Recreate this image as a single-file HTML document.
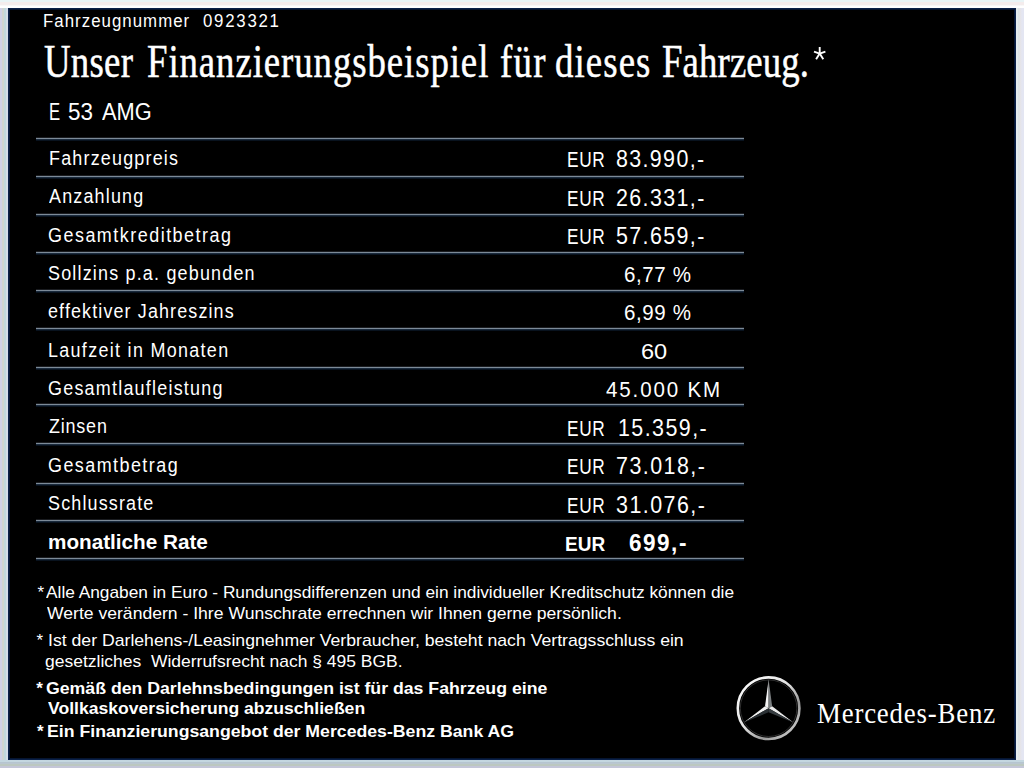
<!DOCTYPE html>
<html><head><meta charset="utf-8"><style>
html,body{margin:0;padding:0;}
body{width:1024px;height:768px;position:relative;overflow:hidden;
background:linear-gradient(90deg,#d0d0e6 0,#d0d0e6 2px,#d0d4d0 2px,#d0d4d0 4px,#c0d8dc 4px,#c0d8dc 6px,#d4dce8 6px,#d4dce8 8px,#dde3e8 8px,#e0e6ea 1016px,#eef2f2 1017px,#dce6e6 1018px,#e6e4e6 1020px,#e4e6f2 1022px);}
.top{position:absolute;left:0;top:0;width:1024px;height:8px;background:linear-gradient(180deg,#e8f4f6 0,#e8f4f6 2px,#f4ecec 2px,#f4ecec 5px,#f0f0f0 5px,#ffffff 6px,#ffffff 8px);}
.bot{position:absolute;left:0;top:760px;width:1024px;height:8px;background:linear-gradient(180deg,#c4d6e0 0,#c4d8e0 2px,#b4c4d0 2px,#bcc8d0 4px,#bcc8c0 4px,#bcc8c0 6px,#c4c6d8 6px);}
.panel{position:absolute;left:8px;top:8px;width:1006px;height:750px;background:#000;border:1px solid #0a2048;box-shadow:inset 0 0 0 1px #061530;}
.t{position:absolute;color:#fff;white-space:pre;line-height:1;transform-origin:0 0;}
.rl{position:absolute;left:36px;width:708px;height:1px;background:#7c8a98;box-shadow:0 -1px 0 #1a1c20,0 1px 0 #1a2a3c,0 2px 0 #08121e;}
</style></head><body>
<div class="top"></div><div class="bot"></div>
<div class="panel"></div>
<div class="rl" style="top:138px"></div><div class="rl" style="top:176px"></div><div class="rl" style="top:214px"></div><div class="rl" style="top:252px"></div><div class="rl" style="top:290px"></div><div class="rl" style="top:328px"></div><div class="rl" style="top:367px"></div><div class="rl" style="top:404px"></div><div class="rl" style="top:443px"></div><div class="rl" style="top:483px"></div><div class="rl" style="top:520px"></div><div class="rl" style="top:558px"></div>
<div class="t" style="left:43.4px;top:11.5px;font-family:'Liberation Sans',sans-serif;font-size:18.3px;letter-spacing:1.124px;transform:scaleX(0.92);">Fahrzeugnummer</div><div class="t" style="left:202.5px;top:11.5px;font-family:'Liberation Sans',sans-serif;font-size:18.3px;letter-spacing:1.902px;transform:scaleX(0.92);">0923321</div><div class="t" style="left:44.4px;top:38.7px;font-family:'Liberation Serif',serif;font-size:46px;letter-spacing:0.344px;transform:scaleX(0.8);-webkit-text-stroke:0.5px #fff;">Unser</div><div class="t" style="left:147.3px;top:38.7px;font-family:'Liberation Serif',serif;font-size:46px;letter-spacing:1.15px;transform:scaleX(0.8);-webkit-text-stroke:0.5px #fff;">Finanzierungsbeispiel</div><div class="t" style="left:500.2px;top:38.7px;font-family:'Liberation Serif',serif;font-size:46px;letter-spacing:1.562px;transform:scaleX(0.8);-webkit-text-stroke:0.5px #fff;">für</div><div class="t" style="left:555px;top:38.7px;font-family:'Liberation Serif',serif;font-size:46px;letter-spacing:1.375px;transform:scaleX(0.8);-webkit-text-stroke:0.5px #fff;">dieses</div><div class="t" style="left:662.4px;top:38.7px;font-family:'Liberation Serif',serif;font-size:46px;letter-spacing:0.141px;transform:scaleX(0.8);-webkit-text-stroke:0.5px #fff;">Fahrzeug.</div><div class="t" style="left:49px;top:100.6px;font-family:'Liberation Sans',sans-serif;font-size:23.3px;transform:scaleX(0.7154);">E</div><div class="t" style="left:68.1px;top:100.6px;font-family:'Liberation Sans',sans-serif;font-size:23.3px;transform:scaleX(0.9625);">53</div><div class="t" style="left:101.5px;top:100.6px;font-family:'Liberation Sans',sans-serif;font-size:23.3px;transform:scaleX(0.9365);">AMG</div><div class="t" style="left:48.7px;top:148.7px;font-family:'Liberation Sans',sans-serif;font-size:19.5px;letter-spacing:1.299px;transform:scaleX(0.92);">Fahrzeugpreis</div><div class="t" style="left:48.9px;top:187.4px;font-family:'Liberation Sans',sans-serif;font-size:19.5px;letter-spacing:1.274px;transform:scaleX(0.92);">Anzahlung</div><div class="t" style="left:47.9px;top:225.5px;font-family:'Liberation Sans',sans-serif;font-size:19.5px;letter-spacing:1.625px;transform:scaleX(0.92);">Gesamtkreditbetrag</div><div class="t" style="left:47.9px;top:263.6px;font-family:'Liberation Sans',sans-serif;font-size:19.5px;letter-spacing:1.294px;transform:scaleX(0.92);">Sollzins p.a. gebunden</div><div class="t" style="left:47.9px;top:301.9px;font-family:'Liberation Sans',sans-serif;font-size:19.5px;letter-spacing:1.222px;transform:scaleX(0.92);">effektiver Jahreszins</div><div class="t" style="left:48.4px;top:340.6px;font-family:'Liberation Sans',sans-serif;font-size:19.5px;letter-spacing:1.421px;transform:scaleX(0.92);">Laufzeit in Monaten</div><div class="t" style="left:47.9px;top:378.9px;font-family:'Liberation Sans',sans-serif;font-size:19.5px;letter-spacing:1.336px;transform:scaleX(0.92);">Gesamtlaufleistung</div><div class="t" style="left:48.9px;top:417.4px;font-family:'Liberation Sans',sans-serif;font-size:19.5px;letter-spacing:0.878px;transform:scaleX(0.92);">Zinsen</div><div class="t" style="left:47.9px;top:455.6px;font-family:'Liberation Sans',sans-serif;font-size:19.5px;letter-spacing:1.577px;transform:scaleX(0.92);">Gesamtbetrag</div><div class="t" style="left:47.9px;top:494.3px;font-family:'Liberation Sans',sans-serif;font-size:19.5px;letter-spacing:1.261px;transform:scaleX(0.92);">Schlussrate</div><div class="t" style="left:48.1px;top:531.9px;font-family:'Liberation Sans',sans-serif;font-size:20.5px;font-weight:700;transform:scaleX(1.0096);">monatliche Rate</div><div class="t" style="left:566.6px;top:149.2px;font-family:'Liberation Sans',sans-serif;font-size:21.6px;letter-spacing:0.812px;transform:scaleX(0.8);">EUR</div><div class="t" style="left:616px;top:148.4px;font-family:'Liberation Sans',sans-serif;font-size:23.3px;letter-spacing:1.47px;transform:scaleX(0.92);">83.990,-</div><div class="t" style="left:566.6px;top:187.57px;font-family:'Liberation Sans',sans-serif;font-size:21.6px;letter-spacing:0.812px;transform:scaleX(0.8);">EUR</div><div class="t" style="left:616px;top:186.77px;font-family:'Liberation Sans',sans-serif;font-size:23.3px;letter-spacing:1.494px;transform:scaleX(0.92);">26.331,-</div><div class="t" style="left:566.6px;top:225.94px;font-family:'Liberation Sans',sans-serif;font-size:21.6px;letter-spacing:0.812px;transform:scaleX(0.8);">EUR</div><div class="t" style="left:616px;top:225.14px;font-family:'Liberation Sans',sans-serif;font-size:23.3px;letter-spacing:1.494px;transform:scaleX(0.92);">57.659,-</div><div class="t" style="left:566.6px;top:417.79px;font-family:'Liberation Sans',sans-serif;font-size:21.6px;letter-spacing:0.812px;transform:scaleX(0.8);">EUR</div><div class="t" style="left:617.75px;top:416.99px;font-family:'Liberation Sans',sans-serif;font-size:23.3px;letter-spacing:1.567px;transform:scaleX(0.92);">15.359,-</div><div class="t" style="left:566.6px;top:456.16px;font-family:'Liberation Sans',sans-serif;font-size:21.6px;letter-spacing:0.812px;transform:scaleX(0.8);">EUR</div><div class="t" style="left:615.7px;top:455.36px;font-family:'Liberation Sans',sans-serif;font-size:23.3px;letter-spacing:1.587px;transform:scaleX(0.92);">73.018,-</div><div class="t" style="left:566.6px;top:494.53px;font-family:'Liberation Sans',sans-serif;font-size:21.6px;letter-spacing:0.812px;transform:scaleX(0.8);">EUR</div><div class="t" style="left:615.7px;top:493.73px;font-family:'Liberation Sans',sans-serif;font-size:23.3px;letter-spacing:1.587px;transform:scaleX(0.92);">31.076,-</div><div class="t" style="left:623.8px;top:264.01px;font-family:'Liberation Sans',sans-serif;font-size:22.3px;letter-spacing:0.661px;transform:scaleX(0.92);">6,77 %</div><div class="t" style="left:623.8px;top:302.38px;font-family:'Liberation Sans',sans-serif;font-size:22.3px;letter-spacing:0.661px;transform:scaleX(0.92);">6,99 %</div><div class="t" style="left:640.5px;top:340.75px;font-family:'Liberation Sans',sans-serif;font-size:22.3px;transform:scaleX(1.0565);">60</div><div class="t" style="left:606px;top:379.12px;font-family:'Liberation Sans',sans-serif;font-size:22.3px;letter-spacing:2.035px;transform:scaleX(0.92);">45.000 KM</div><div class="t" style="left:564.6px;top:534.9px;font-family:'Liberation Sans',sans-serif;font-size:19.5px;font-weight:700;transform:scaleX(0.975);">EUR</div><div class="t" style="left:629.4px;top:531.4px;font-family:'Liberation Sans',sans-serif;font-size:24.5px;font-weight:700;letter-spacing:1.636px;transform:scaleX(0.92);">699,-</div><div class="t" style="left:37.5px;top:584.0px;font-family:'Liberation Sans',sans-serif;font-size:17px;">*</div><div class="t" style="left:46.3px;top:584.0px;font-family:'Liberation Sans',sans-serif;font-size:17px;transform:scaleX(1.0172);">Alle Angaben in Euro - Rundungsdifferenzen und ein individueller Kreditschutz können die</div><div class="t" style="left:47.2px;top:605.0px;font-family:'Liberation Sans',sans-serif;font-size:17px;transform:scaleX(1.0339);">Werte verändern - Ihre Wunschrate errechnen wir Ihnen gerne persönlich.</div><div class="t" style="left:36.6px;top:632.1px;font-family:'Liberation Sans',sans-serif;font-size:17px;">*</div><div class="t" style="left:47.75px;top:632.1px;font-family:'Liberation Sans',sans-serif;font-size:17px;transform:scaleX(1.0381);">Ist der Darlehens-/Leasingnehmer Verbraucher, besteht nach Vertragsschluss ein</div><div class="t" style="left:45.4px;top:653.2px;font-family:'Liberation Sans',sans-serif;font-size:17px;transform:scaleX(1.0284);">gesetzliches  Widerrufsrecht nach § 495 BGB.</div><div class="t" style="left:36.25px;top:679.6px;font-family:'Liberation Sans',sans-serif;font-size:17px;font-weight:700;">*</div><div class="t" style="left:46.2px;top:679.6px;font-family:'Liberation Sans',sans-serif;font-size:16.3px;font-weight:700;transform:scaleX(1.0865);">Gemäß den Darlehnsbedingungen ist für das Fahrzeug eine</div><div class="t" style="left:48px;top:700.3px;font-family:'Liberation Sans',sans-serif;font-size:16.3px;font-weight:700;transform:scaleX(1.0795);">Vollkaskoversicherung abzuschließen</div><div class="t" style="left:37px;top:723.4px;font-family:'Liberation Sans',sans-serif;font-size:17px;font-weight:700;">*</div><div class="t" style="left:47.4px;top:723.4px;font-family:'Liberation Sans',sans-serif;font-size:16.3px;font-weight:700;transform:scaleX(1.086);">Ein Finanzierungsangebot der Mercedes-Benz Bank AG</div><div class="t" style="left:817.2px;top:699.8px;font-family:'Liberation Serif',serif;font-size:28.5px;letter-spacing:0.888px;transform:scaleX(0.94);">Mercedes-Benz</div>
<svg style="position:absolute;left:0;top:0" width="1024" height="768" viewBox="0 0 1024 768">
<defs>
<linearGradient id="ring" x1="0" y1="0" x2="1" y2="1"><stop offset="0" stop-color="#ffffff"/><stop offset="0.45" stop-color="#e4e4e4"/><stop offset="0.7" stop-color="#9a9a9a"/><stop offset="1" stop-color="#e0e0e0"/></linearGradient>
</defs>
<circle cx="768.6" cy="708.2" r="30.8" fill="none" stroke="url(#ring)" stroke-width="2.6"/>
<circle cx="768.6" cy="708.2" r="28.3" fill="none" stroke="#444" stroke-width="0.7"/>
<polygon points="768.60,679.60 768.60,708.20 765.05,706.15" fill="#f4f4f4"/>
<polygon points="768.60,679.60 772.15,706.15 768.60,708.20" fill="#7a7e80"/>
<polygon points="743.83,722.50 765.05,706.15 768.60,708.20" fill="#f0f0f0"/>
<polygon points="743.83,722.50 768.60,708.20 768.60,712.30" fill="#2a3034"/>
<polygon points="793.37,722.50 768.60,708.20 772.15,706.15" fill="#eaeaea"/>
<polygon points="793.37,722.50 768.60,712.30 768.60,708.20" fill="#363c40"/>
<g stroke="#fff" stroke-width="1.9" stroke-linecap="butt">
<line x1="819.7" y1="53.6" x2="819.7" y2="47"/>
<line x1="819.7" y1="53.6" x2="825.4" y2="51.6"/>
<line x1="819.7" y1="53.6" x2="814.0" y2="51.6"/>
<line x1="819.7" y1="53.6" x2="823.3" y2="59.2"/>
<line x1="819.7" y1="53.6" x2="816.1" y2="59.2"/>
</g>
</svg>
</body></html>
